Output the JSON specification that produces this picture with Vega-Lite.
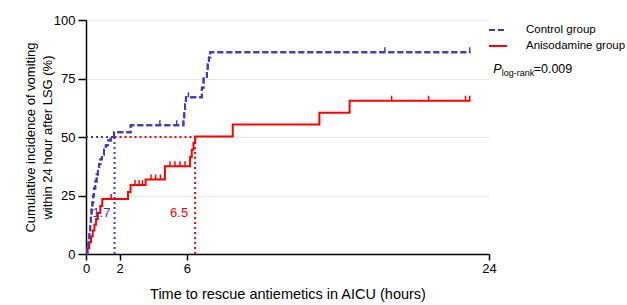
{
  "$schema": "https://vega.github.io/schema/vega-lite/v6.json",
  "width": 403,
  "height": 234,
  "autosize": {"type": "none"},
  "padding": {"left": 86, "top": 20, "right": 138, "bottom": 51},
  "background": "white",
  "config": {"view": {"stroke": null}, "font": "Liberation Sans"},
  "datasets": {
    "km": [
      {"group": "Control group", "t": 0, "p": 0},
      {"group": "Control group", "t": 0.08, "p": 3},
      {"group": "Control group", "t": 0.15, "p": 6},
      {"group": "Control group", "t": 0.2, "p": 9},
      {"group": "Control group", "t": 0.25, "p": 13},
      {"group": "Control group", "t": 0.29, "p": 16},
      {"group": "Control group", "t": 0.33, "p": 19},
      {"group": "Control group", "t": 0.38, "p": 22},
      {"group": "Control group", "t": 0.43, "p": 25},
      {"group": "Control group", "t": 0.48, "p": 28},
      {"group": "Control group", "t": 0.55, "p": 31},
      {"group": "Control group", "t": 0.63, "p": 34},
      {"group": "Control group", "t": 0.71, "p": 36.5},
      {"group": "Control group", "t": 0.78, "p": 38.5},
      {"group": "Control group", "t": 0.86, "p": 40.5},
      {"group": "Control group", "t": 0.95, "p": 42.5},
      {"group": "Control group", "t": 1.07, "p": 44.5},
      {"group": "Control group", "t": 1.18, "p": 46.5},
      {"group": "Control group", "t": 1.31, "p": 48.5},
      {"group": "Control group", "t": 1.47, "p": 49.8},
      {"group": "Control group", "t": 1.67, "p": 52},
      {"group": "Control group", "t": 2.66, "p": 55},
      {"group": "Control group", "t": 5.8, "p": 57.5},
      {"group": "Control group", "t": 5.85, "p": 61},
      {"group": "Control group", "t": 5.9, "p": 64},
      {"group": "Control group", "t": 5.95, "p": 67},
      {"group": "Control group", "t": 6.9, "p": 71},
      {"group": "Control group", "t": 7.0, "p": 75},
      {"group": "Control group", "t": 7.2, "p": 78},
      {"group": "Control group", "t": 7.25, "p": 81},
      {"group": "Control group", "t": 7.32, "p": 84},
      {"group": "Control group", "t": 7.4, "p": 86.2},
      {"group": "Control group", "t": 22.9, "p": 86.2},
      {"group": "Anisodamine group", "t": 0, "p": 0},
      {"group": "Anisodamine group", "t": 0.08, "p": 2.5},
      {"group": "Anisodamine group", "t": 0.2, "p": 5},
      {"group": "Anisodamine group", "t": 0.3, "p": 7.5},
      {"group": "Anisodamine group", "t": 0.4, "p": 10},
      {"group": "Anisodamine group", "t": 0.5, "p": 12.5},
      {"group": "Anisodamine group", "t": 0.6, "p": 15},
      {"group": "Anisodamine group", "t": 0.7, "p": 17.5},
      {"group": "Anisodamine group", "t": 0.85, "p": 20.5},
      {"group": "Anisodamine group", "t": 0.97, "p": 23.5},
      {"group": "Anisodamine group", "t": 2.5, "p": 26.5},
      {"group": "Anisodamine group", "t": 2.65, "p": 29.5},
      {"group": "Anisodamine group", "t": 3.55, "p": 31.8},
      {"group": "Anisodamine group", "t": 4.7, "p": 37.5},
      {"group": "Anisodamine group", "t": 6.2, "p": 41.5},
      {"group": "Anisodamine group", "t": 6.3, "p": 44.5},
      {"group": "Anisodamine group", "t": 6.4, "p": 47.5},
      {"group": "Anisodamine group", "t": 6.5, "p": 50.2},
      {"group": "Anisodamine group", "t": 8.74, "p": 55.3},
      {"group": "Anisodamine group", "t": 13.9, "p": 60.4},
      {"group": "Anisodamine group", "t": 15.7, "p": 65.5},
      {"group": "Anisodamine group", "t": 22.9, "p": 65.5}
    ],
    "censor": [
      {"group": "Control group", "t": 4.4, "p": 55},
      {"group": "Control group", "t": 5.4, "p": 55},
      {"group": "Control group", "t": 6.1, "p": 67},
      {"group": "Control group", "t": 17.8, "p": 86.2},
      {"group": "Control group", "t": 22.85, "p": 86.2},
      {"group": "Anisodamine group", "t": 1.5, "p": 23.5},
      {"group": "Anisodamine group", "t": 2.92, "p": 29.5},
      {"group": "Anisodamine group", "t": 3.16, "p": 29.5},
      {"group": "Anisodamine group", "t": 3.36, "p": 29.5},
      {"group": "Anisodamine group", "t": 3.87, "p": 31.8},
      {"group": "Anisodamine group", "t": 4.15, "p": 31.8},
      {"group": "Anisodamine group", "t": 4.43, "p": 31.8},
      {"group": "Anisodamine group", "t": 5.0, "p": 37.5},
      {"group": "Anisodamine group", "t": 5.3, "p": 37.5},
      {"group": "Anisodamine group", "t": 5.6, "p": 37.5},
      {"group": "Anisodamine group", "t": 5.9, "p": 37.5},
      {"group": "Anisodamine group", "t": 18.2, "p": 65.5},
      {"group": "Anisodamine group", "t": 20.4, "p": 65.5},
      {"group": "Anisodamine group", "t": 22.6, "p": 65.5},
      {"group": "Anisodamine group", "t": 22.85, "p": 65.5}
    ],
    "medians": [
      {"group": "Anisodamine group", "median": 6.5, "start": 1.7, "label": "6.5"},
      {"group": "Control group", "median": 1.7, "start": 0, "label": "1.7"}
    ],
    "pval": [{"italic": "P", "sub": "log-rank", "rest": "=0.009", "x": 24.25, "y": 77.4}]
  },
  "layer": [
    {
      "data": {"name": "km"},
      "mark": {"type": "line", "interpolate": "step-after", "strokeWidth": 2},
      "encoding": {
        "x": {
          "field": "t", "type": "quantitative",
          "scale": {"domain": [0, 24], "nice": false},
          "axis": {
            "values": [0, 2, 6, 24], "title": "Time to rescue antiemetics in AICU (hours)",
            "grid": false, "domainColor": "black", "domainWidth": 1.5, "tickColor": "black", "tickWidth": 1.5, "tickSize": 6,
            "labelFontSize": 13, "labelColor": "black", "labelPadding": 2, "labelFlush": false, "labelOverlap": false,
            "titleFontSize": 14.5, "titleFontWeight": "normal", "titlePadding": 12, "titleColor": "black"
          }
        },
        "y": {
          "field": "p", "type": "quantitative",
          "scale": {"domain": [0, 100], "nice": false},
          "axis": {
            "values": [0, 25, 50, 75, 100],
            "title": ["Cumulative incidence of vomiting", "within 24 hour after LSG (%)"],
            "grid": true, "gridColor": "#e8e8e8", "gridWidth": 1,
            "domainColor": "black", "domainWidth": 1.5, "tickColor": "black", "tickWidth": 1.5, "tickSize": 8,
            "labelFontSize": 13, "labelColor": "black", "labelPadding": 3,
            "titleFontSize": 13, "titleFontWeight": "normal", "titleColor": "black",
            "titleX": -56, "titleY": 117, "titleAlign": "center", "titleBaseline": "middle", "titleLineHeight": 17.5
          }
        },
        "color": {
          "field": "group", "type": "nominal",
          "scale": {"domain": ["Control group", "Anisodamine group"], "range": ["#3b3bbf", "#ff0000"]},
          "legend": {"title": null, "orient": "none", "legendX": 402, "legendY": 0, "symbolType": "stroke", "symbolSize": 324, "symbolStrokeWidth": 2, "labelFontSize": 11.5, "labelColor": "black", "labelOffset": 18, "rowPadding": 0, "padding": 0}
        },
        "strokeDash": {
          "field": "group", "type": "nominal",
          "scale": {"domain": ["Control group", "Anisodamine group"], "range": [[6, 3], [1, 0]]},
          "legend": {"title": null, "orient": "none", "legendX": 402, "legendY": 0, "symbolType": "stroke", "symbolSize": 324, "symbolStrokeWidth": 2, "labelFontSize": 11.5, "labelColor": "black", "labelOffset": 18, "rowPadding": 0, "padding": 0}
        }
      }
    },
    {
      "data": {"name": "medians"},
      "mark": {"type": "rule", "strokeDash": [2, 3], "strokeWidth": 2},
      "encoding": {
        "x": {"field": "start", "type": "quantitative"},
        "x2": {"field": "median"},
        "y": {"datum": 50, "type": "quantitative"},
        "color": {"condition": {"test": "datum.group === 'Control group'", "value": "#3b3bbf"}, "value": "#ff0000"}
      }
    },
    {
      "data": {"name": "medians"},
      "mark": {"type": "rule", "strokeDash": [2, 3], "strokeWidth": 2},
      "encoding": {
        "x": {"field": "median", "type": "quantitative"},
        "y": {"datum": 0, "type": "quantitative"},
        "y2": {"datum": 50},
        "color": {"condition": {"test": "datum.group === 'Control group'", "value": "#3b3bbf"}, "value": "#ff0000"}
      }
    },
    {
      "data": {"name": "km"},
      "mark": {"type": "line", "interpolate": "step-after", "strokeWidth": 2, "strokeDash": [6, 3], "color": "#3b3bbf"},
      "transform": [{"filter": "datum.group === 'Control group'"}],
      "encoding": {
        "x": {"field": "t", "type": "quantitative"},
        "y": {"field": "p", "type": "quantitative"}
      }
    },
    {
      "data": {"name": "censor"},
      "mark": {"type": "point", "shape": "M0,-1L0,0", "filled": false, "size": 100, "strokeWidth": 1.5, "opacity": 1},
      "encoding": {
        "x": {"field": "t", "type": "quantitative"},
        "y": {"field": "p", "type": "quantitative"},
        "color": {"condition": {"test": "datum.group === 'Control group'", "value": "#3b3bbf"}, "value": "#ff0000"}
      }
    },
    {
      "data": {"name": "medians"},
      "transform": [{"filter": "datum.group === 'Control group'"}],
      "mark": {"type": "text", "align": "right", "baseline": "middle", "fontSize": 13, "dx": -4, "color": "#3b3bbf"},
      "encoding": {
        "x": {"field": "median", "type": "quantitative"},
        "y": {"datum": 17.5, "type": "quantitative"},
        "text": {"field": "label"}
      }
    },
    {
      "data": {"name": "medians"},
      "transform": [{"filter": "datum.group === 'Anisodamine group'"}],
      "mark": {"type": "text", "align": "right", "baseline": "middle", "fontSize": 13, "dx": -7, "color": "#ff0000"},
      "encoding": {
        "x": {"field": "median", "type": "quantitative"},
        "y": {"datum": 17.5, "type": "quantitative"},
        "text": {"field": "label"}
      }
    },
    {
      "data": {"name": "pval"},
      "mark": {"type": "text", "align": "left", "baseline": "alphabetic", "fontSize": 12.5, "fontStyle": "italic", "color": "black"},
      "encoding": {
        "x": {"field": "x", "type": "quantitative"},
        "y": {"field": "y", "type": "quantitative"},
        "text": {"field": "italic"}
      }
    },
    {
      "data": {"name": "pval"},
      "mark": {"type": "text", "align": "left", "baseline": "alphabetic", "fontSize": 9, "dx": 8.5, "dy": 3, "color": "black"},
      "encoding": {
        "x": {"field": "x", "type": "quantitative"},
        "y": {"field": "y", "type": "quantitative"},
        "text": {"field": "sub"}
      }
    },
    {
      "data": {"name": "pval"},
      "mark": {"type": "text", "align": "left", "baseline": "alphabetic", "fontSize": 12.5, "dx": 40.5, "color": "black"},
      "encoding": {
        "x": {"field": "x", "type": "quantitative"},
        "y": {"field": "y", "type": "quantitative"},
        "text": {"field": "rest"}
      }
    }
  ]
}
